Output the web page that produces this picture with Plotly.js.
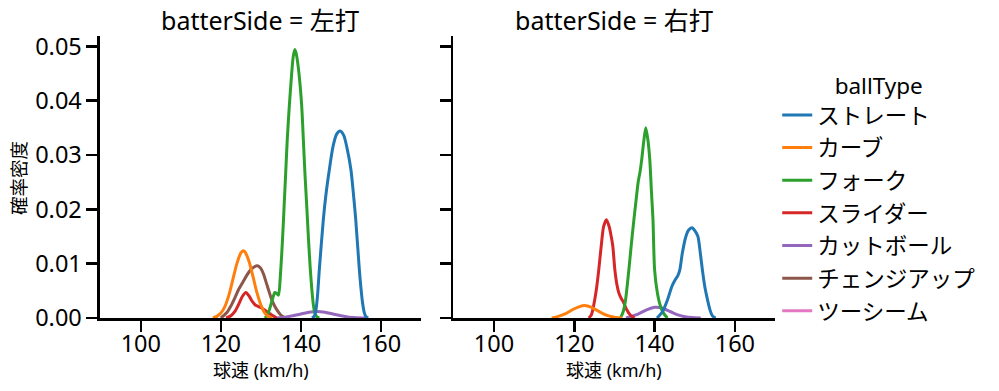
<!DOCTYPE html>
<html>
<head>
<meta charset="utf-8">
<script src="https://cdn.plot.ly/plotly-3.0.1.min.js"></script>
<style>html,body{margin:0;padding:0;background:#fff;}#chart{width:999px;height:391px;}</style>
</head>
<body>
<div id="chart"></div>
<script>
// ---- data ----
const ballTypes = ["ストレート", "カーブ", "フォーク", "スライダー", "カットボール", "チェンジアップ", "ツーシーム"];
const colors = ["#1f77b4", "#ff7f0e", "#2ca02c", "#d62728", "#9467bd", "#8c564b", "#e377c2"];
const panels = ["左打", "右打"];
const xTicks = [100, 120, 140, 160];

// 左打 (left-handed batters)
const L_straight_x = [142.8, 143.4, 143.8, 144.2, 144.6, 145.6, 146.3, 147.1, 148.0, 148.9, 149.8, 150.7, 151.6, 152.5, 153.1, 153.7, 154.6, 155.0, 155.4, 155.8, 156.2, 156.8];
const L_straight_y = [0, 0.0004, 0.0017, 0.0046, 0.0089, 0.0181, 0.0230, 0.0273, 0.0315, 0.0338, 0.0344, 0.0336, 0.0310, 0.0273, 0.0230, 0.0181, 0.0089, 0.0055, 0.0028, 0.0011, 0.0003, 0];
const L_curve_x = [118.0, 119, 120, 121, 122, 123, 124, 125, 125.6, 126, 127, 128, 129, 130, 131, 132, 132.8];
const L_curve_y = [0, 0.0003, 0.0009, 0.0021, 0.0042, 0.0071, 0.0100, 0.0120, 0.0124, 0.0122, 0.0105, 0.0077, 0.0047, 0.0024, 0.0009, 0.0002, 0];
const L_fork_x = [131.0, 131.6, 132.2, 132.9, 133.5, 134.0, 134.4, 134.9, 135.4, 135.8, 136.2, 136.6, 137.1, 137.7, 138.1, 138.5, 138.9, 139.5, 140.2, 140.6, 141.0, 141.5, 141.9, 142.3, 142.7, 143.1, 143.5, 144.0, 144.6];
const L_fork_y = [0, 0.0005, 0.0017, 0.0035, 0.0047, 0.0045, 0.0042, 0.0082, 0.0144, 0.0205, 0.0267, 0.0330, 0.0390, 0.0451, 0.0482, 0.0494, 0.0484, 0.0451, 0.0390, 0.0330, 0.0267, 0.0200, 0.0144, 0.0095, 0.0055, 0.0025, 0.0009, 0.0002, 0];
const L_slider_x = [121.3, 122.5, 123.5, 124.5, 125.4, 126.25, 127.0, 127.8, 128.6, 129.4, 130.25, 131.1, 131.9, 133.0, 134.0];
const L_slider_y = [0, 0.0004, 0.0012, 0.0026, 0.0040, 0.0047, 0.0041, 0.0031, 0.0024, 0.0021, 0.0018, 0.0014, 0.0010, 0.0004, 0];
const L_cutter_x = [134, 136, 138, 140, 142, 144, 146, 148, 150, 152, 154, 156];
const L_cutter_y = [0, 0.00016, 0.0004, 0.00073, 0.00106, 0.0012, 0.00106, 0.00073, 0.0004, 0.00016, 0.00005, 0];
const L_change_x = [120.0, 121.5, 122.5, 123.5, 124.4, 125.5, 126.5, 127.5, 128.3, 129.1, 129.9, 130.7, 131.3, 131.9, 132.6, 133.3, 134.0, 134.8, 135.6, 136.3];
const L_change_y = [0, 0.0010, 0.0022, 0.0037, 0.0052, 0.0066, 0.0079, 0.0089, 0.0094, 0.0096, 0.0092, 0.0080, 0.0066, 0.0052, 0.0036, 0.0024, 0.0015, 0.0007, 0.0002, 0];
const L_twoseam_x = [];
const L_twoseam_y = [];

// 右打 (right-handed batters)
const R_straight_x = [140.6, 142.0, 143.2, 144.3, 145.1, 145.8, 146.3, 146.9, 147.8, 148.5, 149.3, 150.1, 150.8, 151.4, 151.9, 152.5, 153.2, 153.8, 154.4, 155.2];
const R_straight_y = [0, 0.0012, 0.0033, 0.0058, 0.0070, 0.0078, 0.0089, 0.0119, 0.0150, 0.0162, 0.0166, 0.0160, 0.0150, 0.0119, 0.0089, 0.0058, 0.0033, 0.0015, 0.0004, 0];
const R_curve_x = [114.4, 116, 118, 120, 122, 122.6, 124, 126, 128, 130, 131.9];
const R_curve_y = [0, 0.0003, 0.00086, 0.0017, 0.00227, 0.0023, 0.00206, 0.00126, 0.00053, 0.00015, 0];
const R_fork_x = [131.5, 132.2, 132.8, 133.6, 134.2, 134.85, 135.5, 135.95, 136.4, 136.8, 137.3, 137.8, 138.3, 138.8, 139.2, 139.6, 140.0, 140.7, 141.5, 142.3, 143.2];
const R_fork_y = [0, 0.0012, 0.0035, 0.0089, 0.0135, 0.0181, 0.0224, 0.0252, 0.0270, 0.0292, 0.0325, 0.0350, 0.0330, 0.0292, 0.0235, 0.0181, 0.0089, 0.0046, 0.0021, 0.0008, 0];
const R_slider_x = [123.6, 124.2, 124.6, 125.1, 125.6, 126.1, 126.7, 127.3, 128.0, 128.7, 129.2, 129.6, 130.1, 130.6, 131.1, 131.7, 132.2, 133.0, 134.0, 135.0];
const R_slider_y = [0, 0.0005, 0.0015, 0.0034, 0.0058, 0.0089, 0.0132, 0.0168, 0.0181, 0.0168, 0.0150, 0.0132, 0.0089, 0.0062, 0.0046, 0.0036, 0.0030, 0.0016, 0.0005, 0];
const R_cutter_x = [132.9, 134, 136, 138, 140, 140.4, 142, 144, 146, 148, 150, 151.5];
const R_cutter_y = [0, 0.00026, 0.00078, 0.00150, 0.00197, 0.0020, 0.00180, 0.00115, 0.00052, 0.00017, 0.00004, 0];
const R_change_x = [];
const R_change_y = [];
const R_twoseam_x = [];
const R_twoseam_y = [];

const seriesL = [[L_straight_x, L_straight_y], [L_curve_x, L_curve_y], [L_fork_x, L_fork_y], [L_slider_x, L_slider_y], [L_cutter_x, L_cutter_y], [L_change_x, L_change_y], [L_twoseam_x, L_twoseam_y]];
const seriesR = [[R_straight_x, R_straight_y], [R_curve_x, R_curve_y], [R_fork_x, R_fork_y], [R_slider_x, R_slider_y], [R_cutter_x, R_cutter_y], [R_change_x, R_change_y], [R_twoseam_x, R_twoseam_y]];

const FONT = "'Noto Sans', 'Noto Sans CJK JP', sans-serif";
const traces = [];
// draw in reverse so the first hue ends up on top (as seaborn)
for (let i = ballTypes.length - 1; i >= 0; i--) {
  [[seriesL, "x", "y"], [seriesR, "x2", "y2"]].forEach(([ser, xa, ya], p) => {
    let xs = ser[i][0], ys = ser[i][1];
    if (xs.length === 0) { xs = [null]; ys = [null]; }
    traces.push({
      type: "scatter", mode: "lines", x: xs, y: ys, xaxis: xa, yaxis: ya,
      name: ballTypes[i], legendgroup: ballTypes[i], legendrank: i + 1,
      showlegend: p === 0,
      line: {color: colors[i], width: 3, shape: "spline", smoothing: 0.7},
      hoverinfo: "x+y+name"
    });
  });
}

const axisBase = {
  showline: true, linecolor: "#000", linewidth: 2.5, showgrid: false, zeroline: false,
  ticks: "outside", ticklen: 11, tickwidth: 2.5, tickcolor: "#000",
  tickfont: {family: FONT, size: 23.5, color: "#000"}
};
const xax = Object.assign({}, axisBase, {range: [89.8, 170], tickvals: xTicks, ticktext: xTicks.map(String), ticklabelstandoff: -8});
const yax = Object.assign({}, axisBase, {range: [0, 0.0519], tickvals: [0, 0.01, 0.02, 0.03, 0.04, 0.05], tickformat: ".2f"});

const layout = {
  width: 999, height: 391,
  margin: {l: 0, r: 0, t: 0, b: 0},
  paper_bgcolor: "#fff", plot_bgcolor: "#fff",
  font: {family: FONT, color: "#000"},
  xaxis: Object.assign({}, xax, {domain: [0.1001, 0.4214], anchor: "y"}),
  yaxis: Object.assign({}, yax, {domain: [0.1867, 0.9079], anchor: "x"}),
  xaxis2: Object.assign({}, xax, {domain: [0.4535, 0.7758], anchor: "y2"}),
  yaxis2: Object.assign({}, yax, {domain: [0.1867, 0.9079], anchor: "x2", showticklabels: false}),
  showlegend: true,
  legend: {
    x: 0.778, xanchor: "left", y: 0.835, yanchor: "top",
    font: {family: FONT, size: 22.5, color: "#000"},
    title: {text: "ballType", side: "top center", font: {family: FONT, size: 22.5, color: "#000"}},
    tracegroupgap: 0.4, bgcolor: "rgba(0,0,0,0)", borderwidth: 0
  },
  annotations: [
    {text: "batterSide = " + panels[0], xref: "paper", yref: "paper", x: 0.2608, y: 1 - 20 / 391, xanchor: "center", yanchor: "middle", showarrow: false, font: {family: FONT, size: 25, color: "#000"}},
    {text: "batterSide = " + panels[1], xref: "paper", yref: "paper", x: 0.6147, y: 1 - 20 / 391, xanchor: "center", yanchor: "middle", showarrow: false, font: {family: FONT, size: 25, color: "#000"}},
    {text: "球速 (km/h)", xref: "paper", yref: "paper", x: 0.2608, y: 1 - 370 / 391, xanchor: "center", yanchor: "middle", showarrow: false, font: {family: FONT, size: 18, color: "#000"}},
    {text: "球速 (km/h)", xref: "paper", yref: "paper", x: 0.6147, y: 1 - 370 / 391, xanchor: "center", yanchor: "middle", showarrow: false, font: {family: FONT, size: 18, color: "#000"}},
    {text: "確率密度", xref: "paper", yref: "paper", x: 18 / 999, y: 1 - 178 / 391, xanchor: "center", yanchor: "middle", textangle: -90, showarrow: false, font: {family: FONT, size: 18.5, color: "#000"}}
  ]
};

Plotly.newPlot("chart", traces, layout, {displayModeBar: false, staticPlot: true});
</script>
</body>
</html>
